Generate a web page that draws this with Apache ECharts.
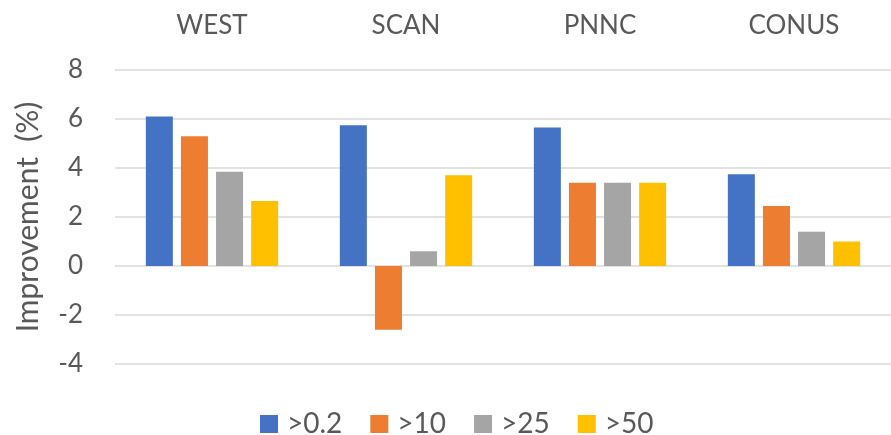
<!DOCTYPE html>
<html>
<head>
<meta charset="utf-8">
<script src="https://cdn.jsdelivr.net/npm/echarts@6/dist/echarts.min.js"></script>
<style>
  html, body { margin: 0; padding: 0; background: #fff; }
  #chart { width: 891px; height: 435px; }
</style>
</head>
<body>
<div id="chart"></div>
<script>
// regions along the top axis
const regions = ['WEST', 'SCAN', 'PNNC', 'CONUS']
// one list per threshold
const seriesNames = ['>0.2', '>10', '>25', '>50']
const gt02 = [6.1, 5.75, 5.65, 3.75]
const gt10 = [5.3, -2.6, 3.4, 2.45]
const gt25 = [3.85, 0.6, 3.4, 1.4]
const gt50 = [2.65, 3.7, 3.4, 1.0]
const yTicks = [-4, -2, 0, 2, 4, 6, 8]

const colors = ['#4472C4', '#ED7D31', '#A5A5A5', '#FFC000']
const values = [gt02, gt10, gt25, gt50]
const font = 'Lato, "Liberation Sans", sans-serif'

const chart = echarts.init(document.getElementById('chart'))
chart.setOption({
  animation: false,
  textStyle: { fontFamily: font },
  grid: { left: 115, right: 0, top: 70, bottom: 71 },
  legend: {
    data: seriesNames,
    left: 255,
    top: 405,
    itemWidth: 18,
    itemHeight: 18,
    itemGap: 28,
    icon: 'rect',
    textStyle: { fontSize: 28, color: '#595959', fontFamily: font, padding: [0, 0, 0, 4] }
  },
  xAxis: {
    type: 'category',
    position: 'top',
    data: regions,
    axisLine: { show: false },
    axisTick: { show: false },
    axisLabel: { margin: 31, fontSize: 26, color: '#595959', fontFamily: font }
  },
  yAxis: {
    type: 'value',
    min: yTicks[0],
    max: yTicks[yTicks.length - 1],
    interval: 2,
    name: 'Improvement  (%)',
    nameLocation: 'middle',
    nameRotate: 90,
    nameGap: 72,
    nameTextStyle: { fontSize: 30, color: '#595959', fontFamily: font },
    axisLine: { show: false },
    axisTick: { show: false },
    axisLabel: { margin: 32, fontSize: 26, color: '#595959', fontFamily: font },
    splitLine: { lineStyle: { color: '#d9d9d9', width: 1.5 } }
  },
  series: seriesNames.map((name, i) => ({
    name: name,
    type: 'bar',
    data: values[i],
    barWidth: 27,
    barGap: '30%',
    itemStyle: { color: colors[i] }
  }))
})
</script>
</body>
</html>
